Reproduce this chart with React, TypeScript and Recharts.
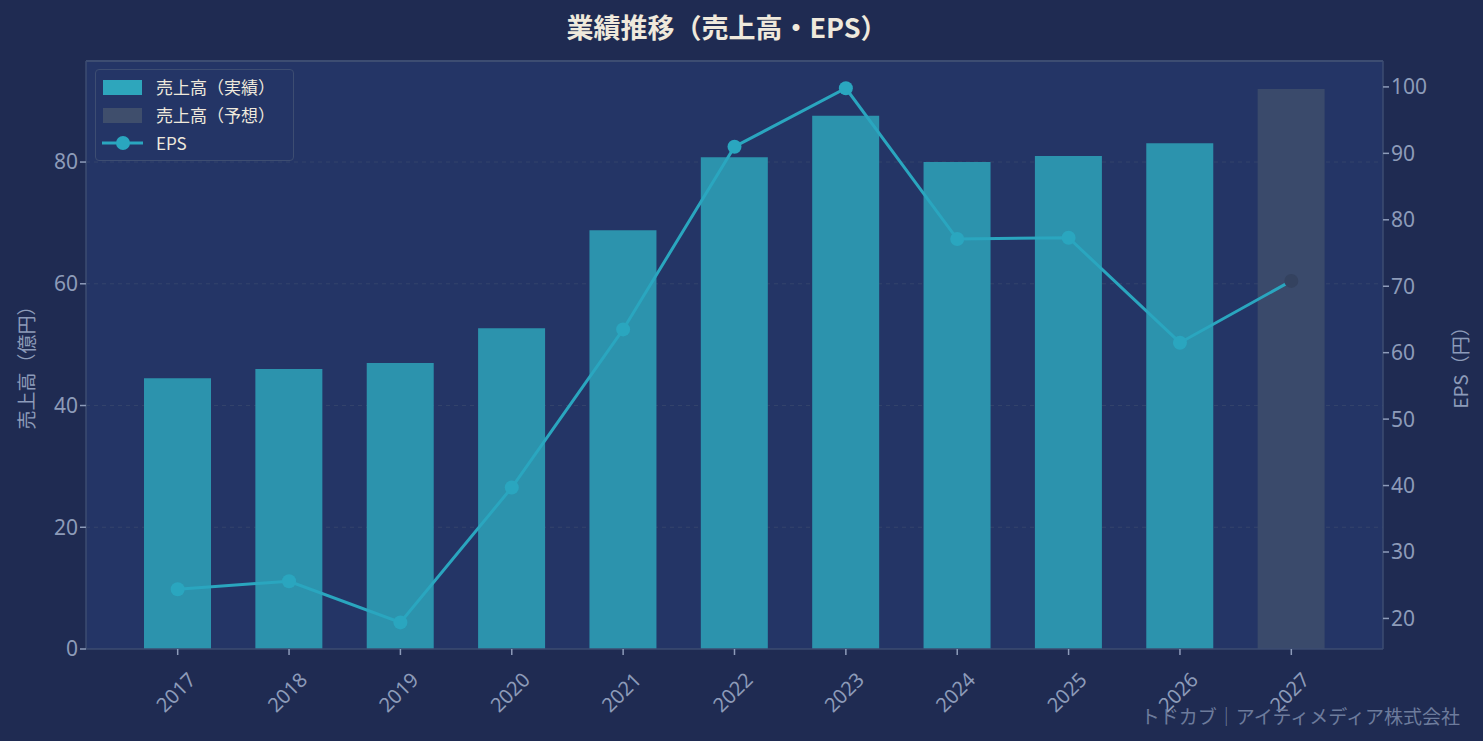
import React from "react";
import {
  ComposedChart,
  Bar,
  Line,
  Cell,
  XAxis,
  YAxis,
  CartesianGrid,
  ReferenceLine,
} from "recharts";

const years = ["2017", "2018", "2019", "2020", "2021", "2022", "2023", "2024", "2025", "2026", "2027"];
const sales = [44.5, 46.0, 47.0, 52.7, 68.8, 80.8, 87.6, 80.0, 81.0, 83.1, 92.0];
const eps = [24.4, 25.6, 19.4, 39.7, 63.5, 91.0, 99.8, 77.1, 77.3, 61.5, 70.8];
const forecast = [false, false, false, false, false, false, false, false, false, false, true];
const salesTicks = [0, 20, 40, 60, 80];
const epsTicks = [20, 30, 40, 50, 60, 70, 80, 90, 100];

const data = years.map((year, i) => ({
  year,
  sales: sales[i],
  eps: eps[i],
  forecast: forecast[i],
}));

const FONT = '"Noto Sans CJK JP", "Noto Sans", sans-serif';
const NUM_FONT = '"Noto Sans", sans-serif';
const BG = "#1f2b52";
const PLOT = "#243566";
const FRAME = "#3d4d72";
const TICK = "#8d9bb9";
const CREAM = "#efe9dc";
const TEAL = "#2aa6bf";

const XTick = ({ x, y, payload }: any) => (
  <text
    x={x - 2}
    y={y + 35}
    fill={TICK}
    fontSize={20}
    fontFamily={NUM_FONT}
    textAnchor="middle"
    dominantBaseline="central"
    transform={`rotate(-45, ${x - 2}, ${y + 35})`}
  >
    {payload.value}
  </text>
);

const EpsDot = ({ cx, cy, payload }: any) => (
  <circle cx={cx} cy={cy} r={7} fill={payload.forecast ? "#34425f" : TEAL} />
);

const LegendBox = () => (
  <div
    style={{
      position: "absolute",
      left: 95,
      top: 69,
      width: 197,
      height: 90,
      border: `1.5px solid ${FRAME}`,
      borderRadius: 4,
      background: PLOT,
      fontFamily: FONT,
      fontSize: 17,
      color: CREAM,
    }}
  >
    {[
      { label: "売上高（実績）", color: "#2ea6bc", kind: "bar" },
      { label: "売上高（予想）", color: "#3f4e6c", kind: "bar" },
      { label: "EPS", color: TEAL, kind: "line" },
    ].map((it, i) => (
      <div
        key={it.label}
        style={{ position: "absolute", left: 6, top: 6 + i * 28, height: 22, display: "flex", alignItems: "center" }}
      >
        <svg width={42} height={22}>
          {it.kind === "bar" ? (
            <rect x={1} y={4} width={39} height={15} fill={it.color} />
          ) : (
            <g>
              <line x1={0} y1={11} x2={41} y2={11} stroke={it.color} strokeWidth={3} />
              <circle cx={21} cy={11} r={7} fill={it.color} />
            </g>
          )}
        </svg>
        <span style={{ marginLeft: 12, lineHeight: "22px", whiteSpace: "nowrap" }}>{it.label}</span>
      </div>
    ))}
  </div>
);

export default function App() {
  return (
    <div
      style={{
        position: "absolute",
        left: 0,
        top: 0,
        width: 1483,
        height: 741,
        background: BG,
        overflow: "hidden",
      }}
    >
      <ComposedChart
        width={1483}
        height={741}
        data={data}
        margin={{ top: 61, right: 40, left: 20, bottom: 12 }}
        barCategoryGap={0}
      >
        <CartesianGrid
          yAxisId="left"
          vertical={false}
          fill={PLOT}
          stroke="#34446c"
          strokeDasharray="4 4"
          horizontalValues={[20, 40, 60, 80]}
        />
        <XAxis
          dataKey="year"
          height={80}
          padding={{ left: 36, right: 36 }}
          axisLine={{ stroke: FRAME, strokeWidth: 1.5 }}
          tickLine={{ stroke: TICK, strokeWidth: 1.5 }}
          tickSize={6}
          tick={<XTick />}
          interval={0}
        />
        <YAxis
          yAxisId="left"
          orientation="left"
          width={66}
          domain={[0, 96.6]}
          ticks={salesTicks}
          allowDataOverflow
          axisLine={{ stroke: FRAME, strokeWidth: 1.5 }}
          tickLine={{ stroke: TICK, strokeWidth: 1.5 }}
          tickSize={6}
          tick={{ fill: TICK, fontSize: 21, fontFamily: NUM_FONT }}
        />
        <YAxis
          yAxisId="right"
          orientation="right"
          width={60}
          domain={[15.4, 103.9]}
          ticks={epsTicks}
          allowDataOverflow
          axisLine={{ stroke: FRAME, strokeWidth: 1.5 }}
          tickLine={{ stroke: TICK, strokeWidth: 1.5 }}
          tickSize={6}
          tick={{ fill: TICK, fontSize: 21, fontFamily: NUM_FONT }}
        />
        <ReferenceLine yAxisId="left" y={96.6} stroke={FRAME} strokeWidth={2} />
        <Bar yAxisId="left" dataKey="sales" barSize={67} isAnimationActive={false}>
          {data.map((d) => (
            <Cell key={d.year} fill={d.forecast ? "#3a4a6b" : "#2c93ad"} />
          ))}
        </Bar>
        <Line
          yAxisId="right"
          dataKey="eps"
          type="linear"
          stroke={TEAL}
          strokeWidth={3}
          dot={<EpsDot />}
          activeDot={false}
          isAnimationActive={false}
        />
      </ComposedChart>
      <LegendBox />
      <svg
        width={1483}
        height={741}
        style={{ position: "absolute", left: 0, top: 0, pointerEvents: "none" }}
      >
        <text x={727} y={26} fill={CREAM} fontSize={27} fontWeight="bold" fontFamily={FONT} textAnchor="middle" dominantBaseline="central">
          業績推移（売上高・EPS）
        </text>
        <text
          x={25}
          y={363}
          fill={TICK}
          fontSize={19}
          fontFamily={FONT}
          textAnchor="middle"
          dominantBaseline="central"
          transform="rotate(-90, 25, 363)"
        >
          売上高（億円）
        </text>
        <text
          x={1459}
          y={363}
          fill={TICK}
          fontSize={19}
          fontFamily={FONT}
          textAnchor="middle"
          dominantBaseline="central"
          transform="rotate(-90, 1459, 363)"
        >
          EPS（円）
        </text>
        <text x={1460} y={715} fill="#6d7b9c" fontSize={19} fontFamily={FONT} textAnchor="end" dominantBaseline="central">
          トドカブ｜アイティメディア株式会社
        </text>
      </svg>
    </div>
  );
}
